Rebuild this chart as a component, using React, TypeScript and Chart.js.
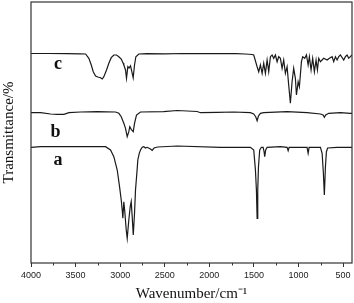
import React, { useEffect, useRef } from "react";
import { Chart, registerables } from "chart.js";

Chart.register(...registerables);

// Axis ranges / ticks
const X_MIN = 400;
const X_MAX = 4000;
const X_TICK_STEP = 250;
const X_LABEL_STEP = 500;
const Y_MIN = 0;
const Y_MAX = 261;

// Spectrum a
const A_WN = [4000, 3892, 3500, 3164, 3108, 3071, 3033, 3007, 2988, 2977, 2970, 2959, 2948, 2932, 2921, 2903, 2887, 2876, 2865, 2853, 2839, 2828, 2813, 2802, 2786, 2772, 2753, 2735, 2716, 2697, 2660, 2641, 2620, 2580, 2360, 1875, 1539, 1502, 1483, 1472, 1464, 1457, 1449, 1435, 1416, 1397, 1386, 1379, 1368, 1352, 1203, 1128, 1116, 1105, 904, 892, 881, 754, 735, 721, 710, 698, 687, 673, 567, 400];
const A_T = [115.7, 116.3, 116.3, 116.3, 113, 106.3, 93, 76.3, 63, 53, 44.7, 61.3, 51.3, 33, 24.7, 43, 56.3, 61.3, 46.3, 28, 49.7, 73, 89.7, 103, 109.7, 113, 115.7, 116.3, 115, 115.7, 114, 112.7, 115, 116, 117, 115.7, 115.7, 113, 93, 73, 44.7, 73, 96.3, 113, 115.7, 115.7, 111.3, 106.3, 113, 115.7, 116.3, 115.7, 112.3, 115.7, 115.7, 109.7, 115.7, 115.7, 109.7, 89.7, 68, 96.3, 111.3, 115, 115.7, 115.7];

// Spectrum b
const B_WN = [4000, 3892, 3780, 3705, 3631, 3575, 3444, 3257, 3052, 3015, 2988, 2959, 2940, 2921, 2903, 2892, 2876, 2853, 2839, 2817, 2772, 2514, 2360, 2137, 2099, 1912, 1726, 1539, 1502, 1480, 1464, 1449, 1427, 1390, 1128, 904, 754, 724, 710, 695, 661, 530, 418, 400];
const B_T = [150.3, 150.3, 149, 148.7, 148.7, 150.3, 151, 151.3, 151, 149.7, 146.3, 139.7, 134.7, 126.3, 131.3, 136.3, 133.7, 131.3, 139.7, 148, 151, 151.3, 152.5, 151.5, 150.3, 150.7, 151, 150.3, 149, 146.3, 142.3, 147, 149.7, 150.3, 151.3, 150.3, 149, 148, 145.7, 148, 149.7, 150.3, 149.7, 149.7];

// Spectrum c
const C_WN = [4000, 3800, 3600, 3450, 3388, 3351, 3324, 3302, 3276, 3250, 3220, 3201, 3183, 3153, 3127, 3100, 3071, 3041, 3015, 2988, 2966, 2959, 2940, 2929, 2914, 2900, 2884, 2865, 2854, 2839, 2824, 2791, 2700, 2500, 2300, 2000, 1700, 1600, 1520, 1502, 1464, 1446, 1427, 1408, 1390, 1371, 1352, 1334, 1315, 1296, 1278, 1259, 1240, 1222, 1203, 1184, 1166, 1147, 1128, 1110, 1091, 1072, 1054, 1035, 1023, 1004, 990, 967, 953, 930, 911, 892, 878, 859, 841, 822, 803, 788, 773, 754, 717, 679, 654, 623, 605, 586, 567, 549, 530, 493, 474, 455, 437, 400];
const C_T = [209.5, 209.5, 209.3, 209.2, 209, 204.7, 198, 191.3, 187, 186, 185.3, 184, 186.3, 193, 199.7, 205.3, 208, 208, 206.3, 204, 199.7, 198, 193, 184.7, 196.3, 195, 197.3, 189.7, 185.3, 198, 206.3, 209, 209.3, 209.2, 209.5, 209.3, 209.3, 209, 208.5, 208, 196.3, 191.3, 198, 189.7, 199.7, 189.7, 203, 191.3, 206.3, 208, 204.7, 208, 201.3, 206.3, 204.7, 194.7, 203, 189.7, 196.3, 178, 159.7, 181.3, 194.7, 184.7, 168, 181.3, 176.3, 201.3, 206.3, 204.7, 208, 198, 206.3, 193, 204.7, 191.3, 203, 193, 204.7, 201.3, 204.7, 203, 204.7, 206.3, 201.3, 206.3, 203, 206.3, 208, 203, 206.3, 208, 204.7, 208];

// Curve labels
const CURVE_NAMES = ["a", "b", "c"];
const CURVE_LABEL_WN = [3696, 3724, 3696];
const CURVE_LABEL_T = [98, 126.5, 194.5];

const X_TITLE = "Wavenumber/cm\u207B\u00B9";
const Y_TITLE = "Transmittance/%";

export default function App() {
  const ref = useRef<HTMLCanvasElement | null>(null);

  useEffect(() => {
    if (!ref.current) return;
    const pts = (w: number[], t: number[]) => w.map((x, i) => ({ x, y: t[i] }));
    const lineColor = "#1a1a1a";

    const decor = {
      id: "decor",
      afterDraw(chart: any) {
        const { ctx, chartArea, scales } = chart;
        const { left, top, right, bottom } = chartArea;
        ctx.save();
        // frame
        ctx.strokeStyle = "#333";
        ctx.lineWidth = 1.2;
        ctx.strokeRect(left, top, right - left, bottom - top);
        // minor ticks
        const xs = scales.x;
        ctx.lineWidth = 1;
        ctx.beginPath();
        for (const t of xs.ticks) {
          if (t.value % X_LABEL_STEP !== 0) {
            const px = Math.round(xs.getPixelForValue(t.value)) + 0.5;
            ctx.moveTo(px, bottom);
            ctx.lineTo(px, bottom + 2.5);
          }
        }
        ctx.stroke();
        // curve labels
        const ys = scales.y;
        ctx.fillStyle = "#111";
        ctx.font = 'bold 18px "Liberation Serif", "Times New Roman", serif';
        ctx.textAlign = "center";
        ctx.textBaseline = "alphabetic";
        CURVE_NAMES.forEach((n, i) => {
          ctx.fillText(n, xs.getPixelForValue(CURVE_LABEL_WN[i]), ys.getPixelForValue(CURVE_LABEL_T[i]));
        });
        ctx.restore();
      },
    };

    const chart = new Chart(ref.current, {
      type: "line",
      data: {
        datasets: [
          { label: "a", data: pts(A_WN, A_T) },
          { label: "b", data: pts(B_WN, B_T) },
          { label: "c", data: pts(C_WN, C_T) },
        ].map((d) => ({
          ...d,
          borderColor: lineColor,
          borderWidth: 1.2,
          pointRadius: 0,
          tension: 0,
          fill: false,
        })),
      },
      options: {
        animation: false,
        responsive: false,
        events: [],
        layout: { padding: { top: 2, right: 2, left: 0, bottom: 0 } },
        plugins: { legend: { display: false }, tooltip: { enabled: false } },
        scales: {
          x: {
            type: "linear",
            reverse: true,
            min: X_MIN,
            max: X_MAX,
            afterFit: (s: any) => {
              s.height = 40;
            },
            border: { display: false },
            grid: {
              drawOnChartArea: false,
              drawTicks: true,
              tickLength: 4,
              tickWidth: 1,
              tickColor: (c: any) =>
                c.tick && c.tick.value % X_LABEL_STEP === 0 ? "#333" : "rgba(0,0,0,0)",
            },
            ticks: {
              stepSize: X_TICK_STEP,
              includeBounds: false,
              autoSkip: false,
              maxRotation: 0,
              padding: 3,
              color: "#222",
              font: { family: '"Liberation Sans", Arial, sans-serif', size: 9 },
              callback: (v: any) => (Number(v) % X_LABEL_STEP === 0 ? String(v) : ""),
            },
            title: {
              display: true,
              text: X_TITLE,
              color: "#111",
              padding: { top: 1, bottom: 0 },
              font: { family: '"Liberation Serif", "Times New Roman", serif', size: 15 },
            },
          },
          y: {
            type: "linear",
            min: Y_MIN,
            max: Y_MAX,
            afterFit: (s: any) => {
              s.width = 31;
            },
            border: { display: false },
            grid: { display: false, drawTicks: false },
            ticks: { display: false },
            title: {
              display: true,
              text: Y_TITLE,
              color: "#111",
              padding: { top: 0, bottom: 0 },
              font: { family: '"Liberation Serif", "Times New Roman", serif', size: 15 },
            },
          },
        },
      },
      plugins: [decor],
    });
    return () => chart.destroy();
  }, []);

  return (
    <div style={{ position: "absolute", left: 0, top: 0, width: 354, height: 303, background: "#fff" }}>
      <canvas ref={ref} width={354} height={303} style={{ display: "block" }} />
    </div>
  );
}
